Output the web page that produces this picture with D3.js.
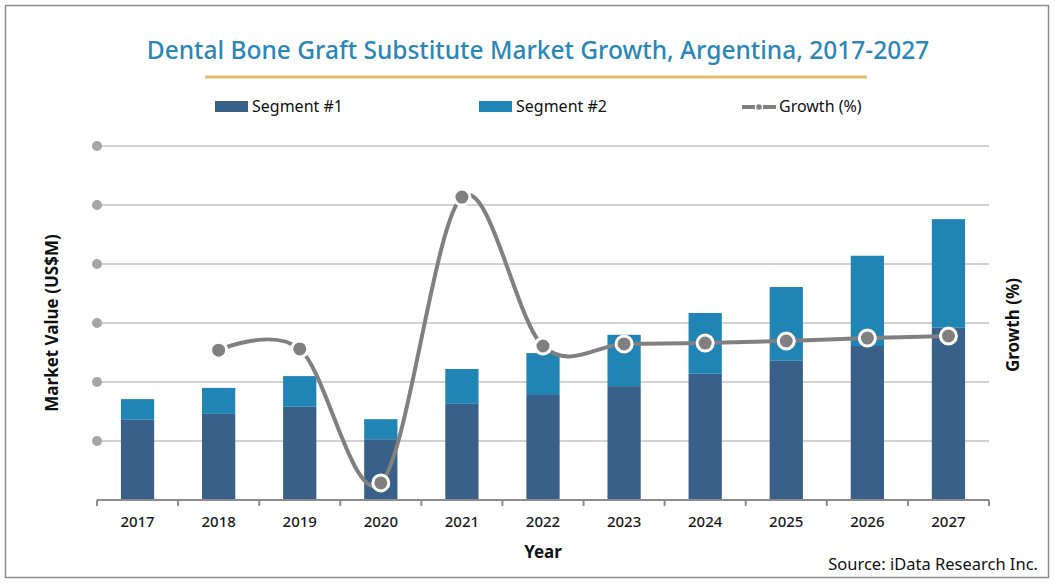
<!DOCTYPE html>
<html>
<head>
<meta charset="utf-8">
<script src="https://cdn.jsdelivr.net/npm/d3@7"></script>
<style>
  body { margin: 0; background: #fff; }
  svg { font-family: "Noto Sans", "Open Sans", sans-serif; }
</style>
</head>
<body>
<div id="chart"></div>
<script>
// values (market value in grid units, growth in %)
var years = ["2017", "2018", "2019", "2020", "2021", "2022", "2023", "2024", "2025", "2026", "2027"];
var segment1 = [13.6, 14.6, 15.8, 10.3, 16.3, 17.8, 19.3, 21.4, 23.6, 26.1, 29.2];
var segment2 = [3.5, 4.4, 5.2, 3.4, 5.9, 7.1, 8.7, 10.3, 12.5, 15.3, 18.4];
var growthYears = ["2018", "2019", "2020", "2021", "2022", "2023", "2024", "2025", "2026", "2027"];
var growth = [10.8, 11.2, -34.2, 62.7, 12.2, 12.9, 13.2, 13.9, 14.9, 15.6];
var valueTicks = [10, 20, 30, 40, 50, 60];

var W = 1055, H = 584;
var margin = { top: 146, right: 66, bottom: 84, left: 97 };
var width = W - margin.left - margin.right;
var height = H - margin.top - margin.bottom;

var svg = d3.select("#chart").append("svg")
    .attr("width", W)
    .attr("height", H);

// outer frame
svg.append("rect")
    .attr("x", 5.5).attr("y", 5.5)
    .attr("width", 1043).attr("height", 572)
    .attr("fill", "none")
    .attr("stroke", "#8c8c8c")
    .attr("stroke-width", 1.5);

// title
svg.append("text")
    .attr("x", 538).attr("y", 59)
    .attr("text-anchor", "middle")
    .style("font-size", "24.5px")
    .style("font-weight", "500")
    .attr("fill", "#2a87b9")
    .text("Dental Bone Graft Substitute Market Growth, Argentina, 2017-2027");
svg.append("line")
    .attr("x1", 205).attr("x2", 867)
    .attr("y1", 77).attr("y2", 77)
    .attr("stroke", "#e3bd6b")
    .attr("stroke-width", 3);

var g = svg.append("g")
    .attr("transform", "translate(" + margin.left + "," + margin.top + ")");

var x = d3.scaleBand()
    .domain(years)
    .range([0, width])
    .paddingInner(0.59)
    .paddingOuter(0.295);

var y = d3.scaleLinear()
    .domain([0, 60])
    .range([height, 0]);

var yGrowth = d3.scaleLinear()
    .domain([-40, 80])
    .range([height, 0]);

// gridlines with dot markers in place of labels
g.selectAll(".grid")
    .data(valueTicks)
    .enter().append("line")
    .attr("x1", 0).attr("x2", width)
    .attr("y1", d => y(d)).attr("y2", d => y(d))
    .attr("stroke", "#a6a6a6")
    .attr("stroke-width", 1.2);
g.selectAll(".gdot")
    .data(valueTicks)
    .enter().append("circle")
    .attr("cx", 0)
    .attr("cy", d => y(d))
    .attr("r", 5)
    .attr("fill", "#a6a6a6");

// stacked bars
var stacked = years.map(function (yr, i) {
    return { year: yr, s1: segment1[i], s2: segment2[i] };
});
g.selectAll(".bar1")
    .data(stacked)
    .enter().append("rect")
    .attr("x", d => x(d.year))
    .attr("width", x.bandwidth())
    .attr("y", d => y(d.s1))
    .attr("height", d => y(0) - y(d.s1))
    .attr("fill", "#386088");
g.selectAll(".bar2")
    .data(stacked)
    .enter().append("rect")
    .attr("x", d => x(d.year))
    .attr("width", x.bandwidth())
    .attr("y", d => y(d.s1 + d.s2))
    .attr("height", d => y(d.s1) - y(d.s1 + d.s2))
    .attr("fill", "#2084b4");

// x axis with ticks at category boundaries
var bounds = d3.range(years.length + 1).map(i => i * x.step());
g.append("line")
    .attr("x1", 0).attr("x2", width)
    .attr("y1", height).attr("y2", height)
    .attr("stroke", "#8c8c8c")
    .attr("stroke-width", 2);
g.selectAll(".xtick")
    .data(bounds)
    .enter().append("line")
    .attr("x1", d => d).attr("x2", d => d)
    .attr("y1", height).attr("y2", height + 6)
    .attr("stroke", "#8c8c8c")
    .attr("stroke-width", 2);
g.selectAll(".xlabel")
    .data(years)
    .enter().append("text")
    .attr("x", d => x(d) + x.bandwidth() / 2)
    .attr("y", height + 27)
    .attr("text-anchor", "middle")
    .style("font-size", "15px")
    .style("font-weight", "500")
    .attr("fill", "#1a1a1a")
    .text(d => d);

// growth line
var gData = growthYears.map(function (yr, i) { return { year: yr, v: growth[i] }; });
var line = d3.line()
    .x(d => x(d.year) + x.bandwidth() / 2)
    .y(d => yGrowth(d.v))
    .curve(d3.curveCardinal);
g.append("path")
    .datum(gData)
    .attr("d", line)
    .attr("fill", "none")
    .attr("stroke", "#808080")
    .attr("stroke-width", 4);
g.selectAll(".gpt")
    .data(gData)
    .enter().append("circle")
    .attr("cx", d => x(d.year) + x.bandwidth() / 2)
    .attr("cy", d => yGrowth(d.v))
    .attr("r", 8)
    .attr("fill", "#808080")
    .attr("stroke", "#fff")
    .attr("stroke-width", 3);

// axis titles
svg.append("text")
    .attr("transform", "translate(58,323) rotate(-90)")
    .attr("text-anchor", "middle")
    .style("font-size", "17px")
    .style("font-weight", "bold")
    .attr("fill", "#111")
    .text("Market Value (US$M)");
svg.append("text")
    .attr("transform", "translate(1019,325) rotate(-90)")
    .attr("text-anchor", "middle")
    .style("font-size", "17px")
    .style("font-weight", "bold")
    .attr("fill", "#111")
    .text("Growth (%)");
svg.append("text")
    .attr("x", 543).attr("y", 558)
    .attr("text-anchor", "middle")
    .style("font-size", "17px")
    .style("font-weight", "bold")
    .attr("fill", "#111")
    .text("Year");
svg.append("text")
    .attr("x", 1038).attr("y", 570)
    .attr("text-anchor", "end")
    .style("font-size", "16.5px")
    .attr("fill", "#111")
    .text("Source: iData Research Inc.");

// legend
var legend = svg.append("g").attr("class", "legend");
legend.append("rect")
    .attr("x", 215).attr("y", 101).attr("width", 33).attr("height", 11)
    .attr("fill", "#386088");
legend.append("text")
    .attr("x", 252).attr("y", 112)
    .style("font-size", "16px")
    .attr("fill", "#111")
    .text("Segment #1");
legend.append("rect")
    .attr("x", 479).attr("y", 101).attr("width", 33).attr("height", 11)
    .attr("fill", "#2084b4");
legend.append("text")
    .attr("x", 516).attr("y", 112)
    .style("font-size", "16px")
    .attr("fill", "#111")
    .text("Segment #2");
legend.append("line")
    .attr("x1", 742).attr("x2", 776).attr("y1", 107).attr("y2", 107)
    .attr("stroke", "#808080").attr("stroke-width", 4);
legend.append("circle")
    .attr("cx", 759).attr("cy", 107).attr("r", 3.5)
    .attr("fill", "#808080").attr("stroke", "#fff").attr("stroke-width", 1.5);
legend.append("text")
    .attr("x", 779).attr("y", 112)
    .style("font-size", "16px")
    .attr("fill", "#111")
    .text("Growth (%)");
</script>
</body>
</html>
